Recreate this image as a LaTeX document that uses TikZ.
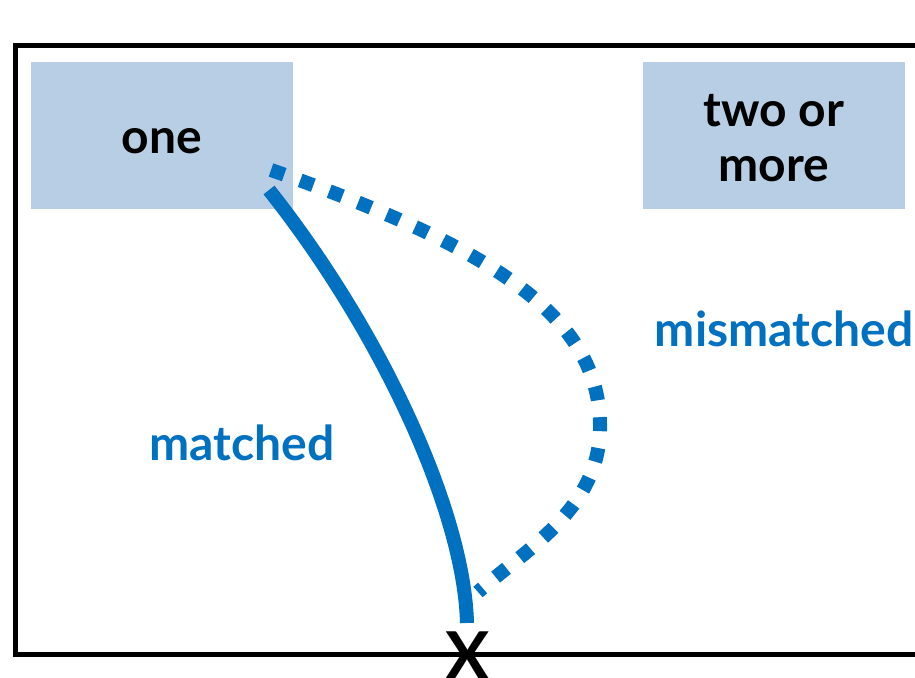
\documentclass[tikz,border=0pt]{standalone}
\usepackage{fontspec}
\setmainfont{Lato}
\definecolor{boxfill}{HTML}{B8CEE4}
\definecolor{lineblue}{HTML}{0070C0}
\begin{document}
\begin{tikzpicture}[x=1pt,y=-1pt,
  catbox/.style={fill=boxfill,draw=none,minimum width=262pt,minimum height=147pt,inner sep=0pt},
  cattext/.style={font=\fontsize{48}{55}\selectfont\bfseries,align=center,inner sep=0pt},
  bluelabel/.style={text=lineblue,font=\fontsize{48}{55}\selectfont\bfseries,inner sep=0pt},
  solidpath/.style={draw=lineblue,line width=14pt},
  dashpath/.style={draw=lineblue,line width=14pt,dash pattern=on 14pt off 17pt}]
\useasboundingbox (0,0) rectangle (915,677);
\draw[line width=5pt] (930,45.5) -- (15.5,45.5) -- (15.5,654.5) -- (930,654.5);
\node[catbox] (one) at (162,135.5) {};
\node[catbox] (two) at (774,135.5) {};
\node[cattext] (onet) at ([yshift=-6pt]one.center) {one};
\node[cattext] (twot) at ([yshift=-3pt]two.center) {two or\\more};
\node[bluelabel] (mis) at (784,329) {mismatched};
\node[bluelabel] (mat) at (242,443) {matched};
\node[font=\fontsize{66}{66}\selectfont\bfseries,inner sep=0pt] (x) at (468,656) {X};
\coordinate (s1) at (269,190);
\coordinate (e1) at (467,623);
\coordinate (s2) at (271,170);
\coordinate (m2) at (600,430);
\coordinate (e2) at (478,592);
\draw[solidpath] (s1) .. controls (380,330) and (464,510) .. (e1);
\draw[dashpath] (s2) .. controls (500,250) and (602,320) .. (m2) .. controls (598,510) and (525,550) .. (e2);
\end{tikzpicture}
\end{document}
